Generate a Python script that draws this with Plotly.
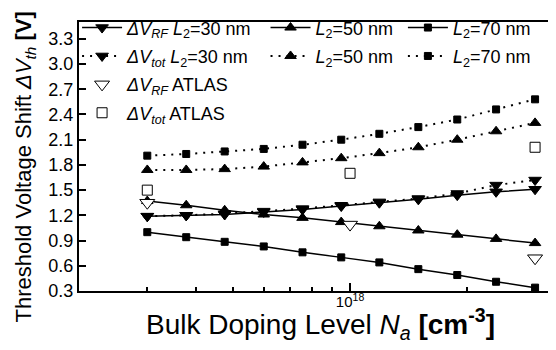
import plotly.graph_objects as go

# ---- data ----
na = [3.0e17, 3.78e17, 4.75e17, 5.99e17, 7.54e17, 9.49e17, 1.19e18, 1.50e18, 1.89e18, 2.38e18, 3.0e18]
rf_30 = [1.19, 1.20, 1.21, 1.24, 1.27, 1.31, 1.35, 1.39, 1.44, 1.48, 1.51]
rf_50 = [1.37, 1.32, 1.26, 1.21, 1.17, 1.12, 1.07, 1.02, 0.97, 0.92, 0.87]
rf_70 = [1.00, 0.94, 0.885, 0.83, 0.76, 0.70, 0.64, 0.56, 0.49, 0.41, 0.34]
tot_30 = [1.19, 1.20, 1.22, 1.25, 1.28, 1.32, 1.36, 1.40, 1.46, 1.56, 1.62]
tot_50 = [1.74, 1.74, 1.75, 1.78, 1.83, 1.88, 1.94, 2.01, 2.10, 2.20, 2.30]
tot_70 = [1.91, 1.93, 1.96, 1.99, 2.04, 2.10, 2.17, 2.25, 2.34, 2.46, 2.58]
atlas_na = [3.0e17, 1.0e18, 3.0e18]
atlas_rf = [1.35, 1.09, 0.69]
atlas_tot = [1.50, 1.70, 2.01]

y_ticks = [0.3, 0.6, 0.9, 1.2, 1.5, 1.8, 2.1, 2.4, 2.7, 3.0, 3.3]
y_minor = [0.45, 0.75, 1.05, 1.35, 1.65, 1.95, 2.25, 2.55, 2.85, 3.15, 3.45]
x_major = [1e18]
x_major_text = ["10<sup>18</sup>"]
x_minor = [3e17, 4e17, 5e17, 6e17, 7e17, 8e17, 9e17, 2e18, 3e18]

FONT = "Arial, Liberation Sans, sans-serif"
SOLID = dict(color="black", width=1.5)
DOT = dict(color="black", width=2, dash="2px,6px")
X_RANGE = [17.301, 18.544]
Y_RANGE = [0.3, 3.5]

fig = go.Figure()

def add(x, y, name, symbol, size, line, legend, rank, mode="lines+markers", fill="black", xaxis="x"):
    fig.add_trace(go.Scatter(
        x=x, y=y, name=name, mode=mode, line=line, xaxis=xaxis, yaxis="y",
        marker=dict(symbol=symbol, size=size, color=fill, line=dict(color="black", width=1)),
        legend=legend, legendgroup=name, legendrank=rank,
    ))

L = "<i>L</i><sub>2</sub>"
add(na, rf_30, "<i>ΔV</i><sub><i>RF</i></sub> " + L + "=30 nm", "triangle-down", 11, SOLID, "legend", 1)
add(na, tot_30, "<i>ΔV</i><sub><i>tot</i></sub> " + L + "=30 nm", "triangle-down", 11, DOT, "legend", 2)
add(na, rf_50, L + "=50 nm", "triangle-up", 10, SOLID, "legend2", 1)
add(na, tot_50, L + "=50 nm ", "triangle-up", 10, DOT, "legend2", 2)
add(na, rf_70, L + "=70 nm", "square", 7, SOLID, "legend3", 1)
add(na, tot_70, L + "=70 nm ", "square", 7, DOT, "legend3", 2)
# ATLAS points live on the overlay x-axis (same range), so they draw on top
add(atlas_na, atlas_rf, "<i>ΔV</i><sub><i>RF</i></sub> ATLAS", "triangle-down", 13, None, "legend", 3,
    mode="markers", fill="white", xaxis="x2")
add(atlas_na, atlas_tot, "<i>ΔV</i><sub><i>tot</i></sub> ATLAS", "square", 10, None, "legend", 4,
    mode="markers", fill="white", xaxis="x2")

leg_common = dict(bgcolor="rgba(0,0,0,0)", borderwidth=0, font=dict(family=FONT, size=18, color="black"),
                  yanchor="top", xanchor="left", tracegroupgap=2, traceorder="grouped",
                  itemclick=False, itemwidth=40)

fig.update_layout(
    width=556, height=350,
    margin=dict(l=71, r=1, t=10, b=67),
    paper_bgcolor="white", plot_bgcolor="white",
    font=dict(family=FONT, color="black"),
    showlegend=True,
    legend=dict(x=-0.004, y=1.047, **leg_common),
    legend2=dict(x=0.387, y=1.047, **leg_common),
    legend3=dict(x=0.672, y=1.047, **leg_common),
    xaxis=dict(
        type="log", range=X_RANGE,
        tickmode="array", tickvals=x_minor, showticklabels=False,
        ticks="inside", ticklen=4, tickwidth=2, tickcolor="black",
        showline=True, linewidth=2, linecolor="black", mirror=True,
        showgrid=False, zeroline=False,
    ),
    xaxis2=dict(
        type="log", range=X_RANGE, overlaying="x", anchor="y", side="bottom",
        tickmode="array", tickvals=x_major, ticktext=x_major_text,
        ticks="inside", ticklen=8, tickwidth=2, tickcolor="black",
        showline=False, showgrid=False, zeroline=False,
        tickfont=dict(family=FONT, size=15),
    ),
    yaxis=dict(
        range=Y_RANGE,
        tickmode="array", tickvals=y_ticks, ticktext=[f"{v:.1f}" for v in y_ticks],
        ticks="inside", ticklen=7, tickwidth=2, tickcolor="black",
        showline=True, linewidth=2, linecolor="black", mirror="ticks",
        showgrid=False, zeroline=False,
        tickfont=dict(family=FONT, size=18),
    ),
    yaxis2=dict(
        range=Y_RANGE, overlaying="y", anchor="x", side="left",
        tickmode="array", tickvals=y_minor, showticklabels=False,
        ticks="inside", ticklen=4, tickwidth=2, tickcolor="black",
        showline=False, mirror="ticks", showgrid=False, zeroline=False,
    ),
    annotations=[
        dict(text="Threshold Voltage Shift <i>ΔV</i><sub><i>th</i></sub> <b>[V]</b>",
             textangle=-90, xref="paper", yref="paper", x=-0.1116, y=0.46,
             xanchor="center", yanchor="middle", showarrow=False,
             font=dict(family=FONT, size=22, color="black")),
        dict(text="Bulk Doping Level <i>N</i><sub><i>a</i></sub> <b>[cm<sup>-3</sup>]</b>",
             xref="paper", yref="paper", x=0.5, y=-0.122,
             xanchor="center", yanchor="middle", showarrow=False,
             font=dict(family=FONT, size=28, color="black")),
    ],
)

fig.write_html("out.html")
